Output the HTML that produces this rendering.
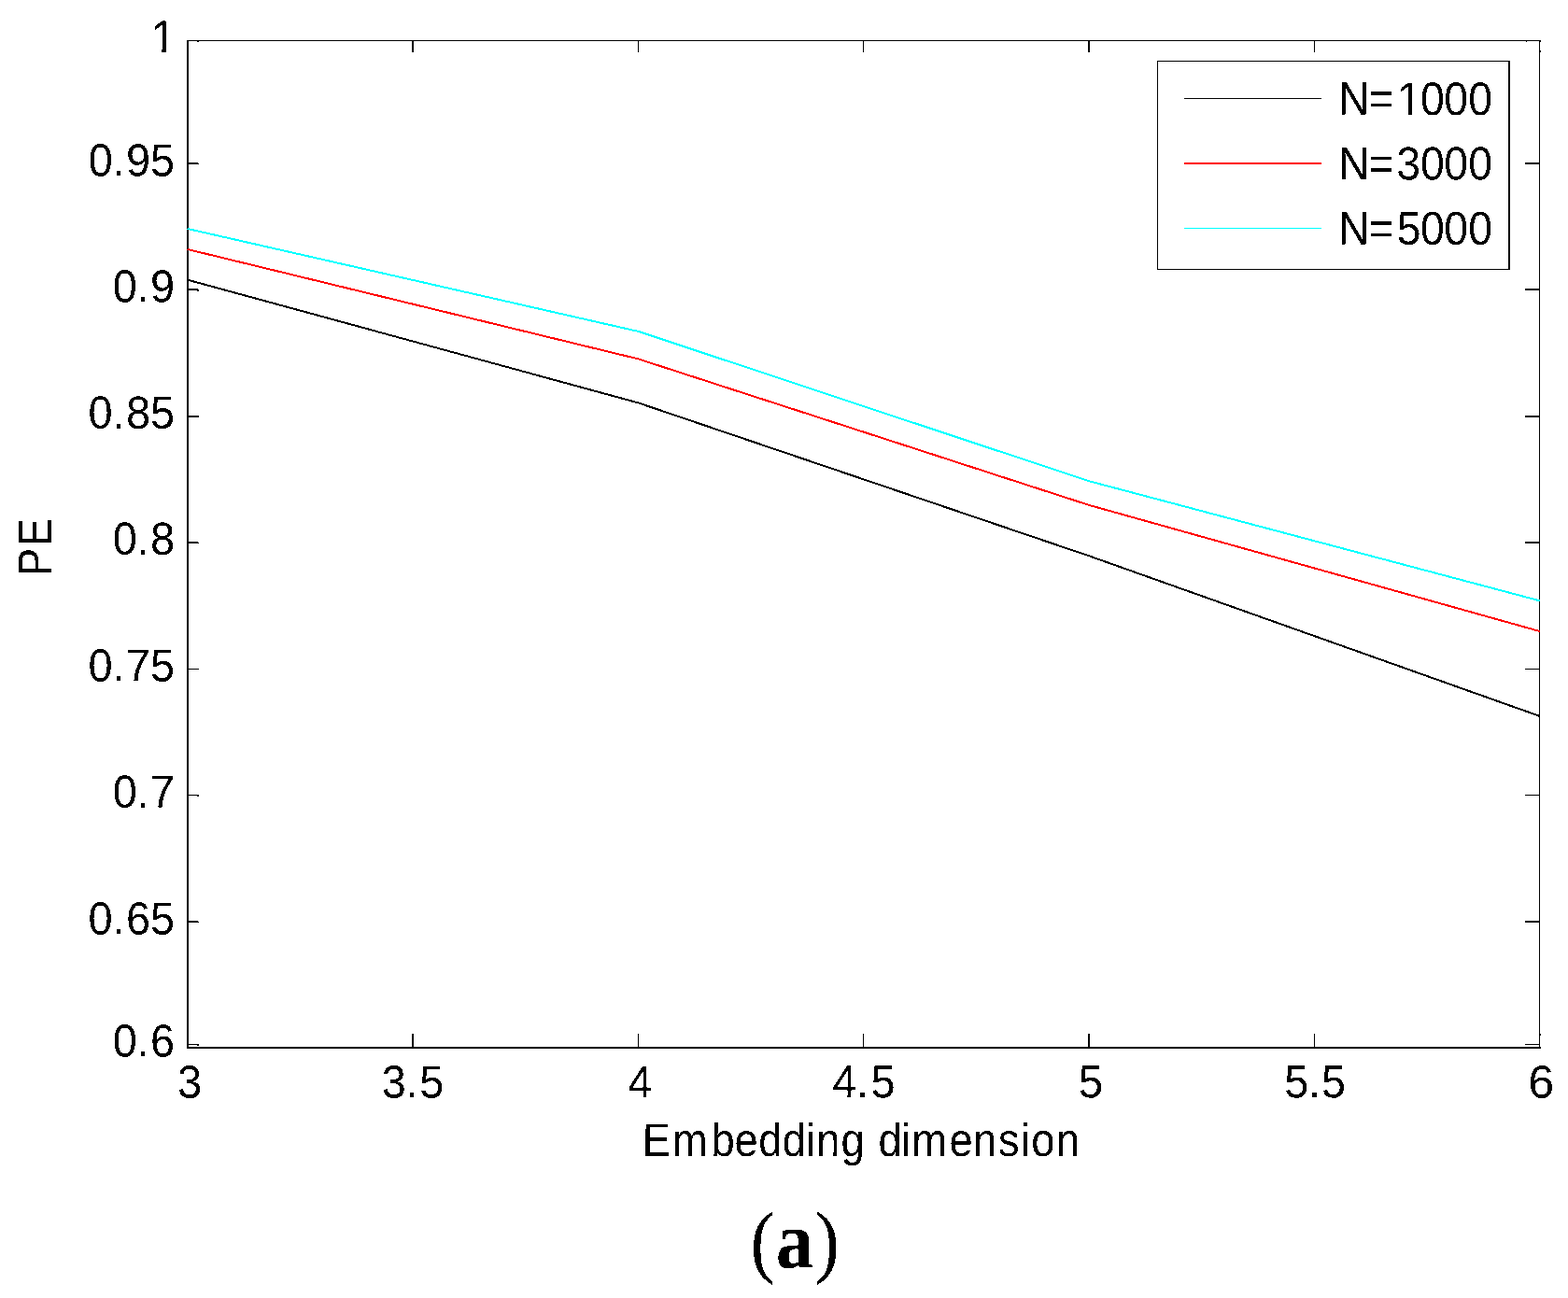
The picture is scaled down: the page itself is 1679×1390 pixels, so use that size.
<!DOCTYPE html>
<html lang="en">
<head>
<meta charset="utf-8">
<title>PE versus embedding dimension</title>
<style>
html,body{margin:0;padding:0;background:#fff;}
body{width:1679px;height:1390px;overflow:hidden;}
svg{display:block;}
text{font-family:"Liberation Sans",sans-serif;fill:#000;white-space:pre;}
.cap{font-family:"Liberation Serif",serif;}
</style>
</head>
<body>
<svg width="1679" height="1390" viewBox="0 0 1679 1390">
<rect x="0" y="0" width="1679" height="1390" fill="#fff"/>
<defs>
<clipPath id="c1"><rect x="-500" y="-100" width="1000" height="95.81"/><rect x="12.42" y="-4.69" width="4.37" height="7.69"/><rect x="-500" y="-4.69" width="502.41" height="60"/><rect x="26.53" y="-4.69" width="473.47" height="60"/></clipPath>
<clipPath id="c2"><rect x="-500" y="-100" width="1000" height="95.76"/><rect x="80.48" y="-4.74" width="4.43" height="7.74"/><rect x="-500" y="-4.74" width="570.33" height="60"/><rect x="94.79" y="-4.74" width="405.21" height="60"/></clipPath>
<filter id="bw" filterUnits="userSpaceOnUse" x="0" y="0" width="1679" height="1390" color-interpolation-filters="sRGB"><feComponentTransfer><feFuncA type="discrete" tableValues="0 1"/></feComponentTransfer></filter>
</defs>
<g fill="#000" shape-rendering="crispEdges">
<rect x="200" y="43" width="2" height="1080"/>
<rect x="200" y="1121" width="1450" height="2"/>
<rect x="200" y="43" width="1450" height="1"/>
<rect x="1648" y="43" width="1" height="1080"/>
<rect x="202" y="174" width="10" height="2"/>
<rect x="1633" y="174" width="15" height="2"/>
<rect x="212" y="175" width="1" height="1"/>
<rect x="202" y="309" width="10" height="2"/>
<rect x="1633" y="309" width="15" height="2"/>
<rect x="211" y="310" width="2" height="2"/>
<rect x="202" y="445" width="11" height="2"/>
<rect x="1633" y="445" width="15" height="2"/>
<rect x="202" y="580" width="10" height="2"/>
<rect x="1633" y="580" width="15" height="2"/>
<rect x="212" y="581" width="1" height="1"/>
<rect x="202" y="716" width="11" height="1"/>
<rect x="1633" y="716" width="15" height="1"/>
<rect x="202" y="851" width="11" height="1"/>
<rect x="1633" y="851" width="15" height="1"/>
<rect x="211" y="852" width="2" height="1"/>
<rect x="202" y="986" width="10" height="2"/>
<rect x="1633" y="986" width="15" height="2"/>
<rect x="212" y="987" width="1" height="1"/>
<rect x="202" y="1118" width="11" height="1"/>
<rect x="211" y="1119" width="2" height="1"/>
<rect x="1633" y="1118" width="15" height="1"/>
<rect x="211" y="44" width="2" height="1"/>
<rect x="1634" y="44" width="1" height="1"/>
<rect x="1649" y="44" width="1" height="1"/>
<rect x="1649" y="54" width="1" height="2"/>
<rect x="1649" y="1107" width="1" height="2"/>
<rect x="441" y="1107" width="2" height="14"/>
<rect x="441" y="44" width="2" height="12"/>
<rect x="683" y="1107" width="1" height="14"/>
<rect x="683" y="44" width="1" height="12"/>
<rect x="924" y="1107" width="1" height="14"/>
<rect x="924" y="44" width="1" height="12"/>
<rect x="1165" y="1107" width="2" height="14"/>
<rect x="1165" y="44" width="2" height="12"/>
<rect x="1407" y="1107" width="1" height="14"/>
<rect x="1407" y="44" width="1" height="12"/>
</g>
<g fill="none" stroke-width="2" shape-rendering="crispEdges" stroke-linejoin="round">
<polyline stroke="#000" points="200.5,299.6 683.5,431.4 1166.1,595.3 1649,767.0"/>
<polyline stroke="#f00" points="200.5,266.9 683.5,384.4 1166.1,540.9 1649,676.1"/>
<polyline stroke="#0ff" points="200.5,244.9 683.5,354.9 1166.1,515.2 1649,643.4"/>
</g>
<g>
<g filter="url(#bw)"><text transform="translate(171.90 56.34) rotate(0.03) translate(-10.21 0) scale(0.9482 1.0000)" font-size="49.40" x="0.00" clip-path="url(#c1)">1</text></g>
<g filter="url(#bw)"><text transform="translate(140.90 188.46) rotate(0.03) translate(-46.13 0) scale(0.9482 1.0000)" font-size="49.40" x="0.00 27.23 42.51 69.86">0.95</text></g>
<g filter="url(#bw)"><text transform="translate(153.90 323.46) rotate(0.03) translate(-33.13 0) scale(0.9482 1.0000)" font-size="49.40" x="0.00 27.23 42.41">0.9</text></g>
<g filter="url(#bw)"><text transform="translate(140.75 458.66) rotate(0.03) translate(-46.28 0) scale(0.9482 1.0000)" font-size="49.40" x="0.00 27.23 42.82 70.18">0.85</text></g>
<g filter="url(#bw)"><text transform="translate(153.90 593.81) rotate(0.03) translate(-33.13 0) scale(0.9482 1.0000)" font-size="49.40" x="0.00 27.23 42.40">0.8</text></g>
<g filter="url(#bw)"><text transform="translate(140.80 729.51) rotate(0.03) translate(-46.23 0) scale(0.9482 1.0000)" font-size="49.40" x="0.00 27.23 42.69 70.08">0.75</text></g>
<g filter="url(#bw)"><text transform="translate(153.90 864.71) rotate(0.03) translate(-33.13 0) scale(0.9482 1.0000)" font-size="49.40" x="0.00 27.23 42.37">0.7</text></g>
<g filter="url(#bw)"><text transform="translate(140.80 1000.61) rotate(0.03) translate(-46.23 0) scale(0.9482 1.0000)" font-size="49.40" x="0.00 27.23 42.54 70.08">0.65</text></g>
<g filter="url(#bw)"><text transform="translate(154.00 1131.56) rotate(0.03) translate(-33.23 0) scale(0.9482 1.0000)" font-size="49.40" x="0.00 27.23 42.44">0.6</text></g>
</g>
<g>
<g filter="url(#bw)"><text transform="translate(202.95 1175.51) rotate(0.03) translate(-12.94 0) scale(0.9521 1.0000)" font-size="49.40" x="0.00">3</text></g>
<g filter="url(#bw)"><text transform="translate(441.95 1175.51) rotate(0.03) translate(-33.24 0) scale(0.9482 1.0000)" font-size="49.40" x="0.00 27.08 42.83">3.5</text></g>
<g filter="url(#bw)"><text transform="translate(685.20 1175.49) rotate(0.03) translate(-12.77 0) scale(0.9400 1.0000)" font-size="49.40" x="0.00">4</text></g>
<g filter="url(#bw)"><text transform="translate(924.80 1175.25) rotate(0.03) translate(-33.58 0) scale(0.9482 1.0000)" font-size="49.40" x="0.00 27.07 43.55">4.5</text></g>
<g filter="url(#bw)"><text transform="translate(1167.95 1175.25) rotate(0.03) translate(-13.15 0) scale(0.9607 1.0000)" font-size="49.40" x="0.00">5</text></g>
<g filter="url(#bw)"><text transform="translate(1408.05 1175.25) rotate(0.03) translate(-32.83 0) scale(0.9482 1.0000)" font-size="49.40" x="0.00 27.18 41.87">5.5</text></g>
<g filter="url(#bw)"><text transform="translate(1650.40 1175.51) rotate(0.03) translate(-14.15 0) scale(1.0178 1.0000)" font-size="49.40" x="0.00">6</text></g>
</g>
<g filter="url(#bw)"><text transform="translate(922.45 1238.00) rotate(0.03) translate(-234.63 0) scale(0.9000 1.0000)" font-size="50.30" x="0.00 35.68 81.82 109.71 138.39 166.50 194.63 207.29 236.39 264.36 280.78 308.24 320.57 365.10 393.68 423.45 450.52 462.77 492.12">Embedding dimension</text></g>
<g filter="url(#bw)"><text transform="translate(55.1 585.4) rotate(-89.97) translate(-31.80 0) scale(0.9050 1.0172)" font-size="50.30" x="0 35.50">PE</text></g>
<g shape-rendering="crispEdges">
<rect x="1239" y="65" width="378" height="224" fill="#000"/>
<rect x="1240" y="66" width="375" height="222" fill="#fff"/>
<rect x="1268" y="105" width="147" height="1" fill="#000"/>
<rect x="1268" y="174" width="147" height="2" fill="#f00"/>
<rect x="1268" y="244" width="147" height="1" fill="#0ff"/>
</g>
<g>
<g filter="url(#bw)"><text transform="translate(1516.40 122.90) rotate(0.03) translate(-83.29 0) scale(0.9250 1.0000)" font-size="50.10" x="0.00 35.00 67.88 95.14 122.28 150.33" clip-path="url(#c2)">N=1000</text></g>
<g filter="url(#bw)"><text transform="translate(1516.40 192.20) rotate(0.03) translate(-83.29 0) scale(0.9250 1.0000)" font-size="50.10" x="0.00 35.00 67.24 95.14 122.28 150.33">N=3000</text></g>
<g filter="url(#bw)"><text transform="translate(1516.40 261.80) rotate(0.03) translate(-83.29 0) scale(0.9250 1.0000)" font-size="50.10" x="0.00 35.00 67.68 95.14 122.28 150.33">N=5000</text></g>
</g>
<g filter="url(#bw)"><text class="cap" font-size="86.4" transform="translate(851.1 1357.40) rotate(0.03) translate(-47.72 0) scale(0.9148 1)" x="0 29.90 75.45">(<tspan font-weight="bold" font-size="87.6">a</tspan>)</text></g>
</svg>
</body>
</html>
